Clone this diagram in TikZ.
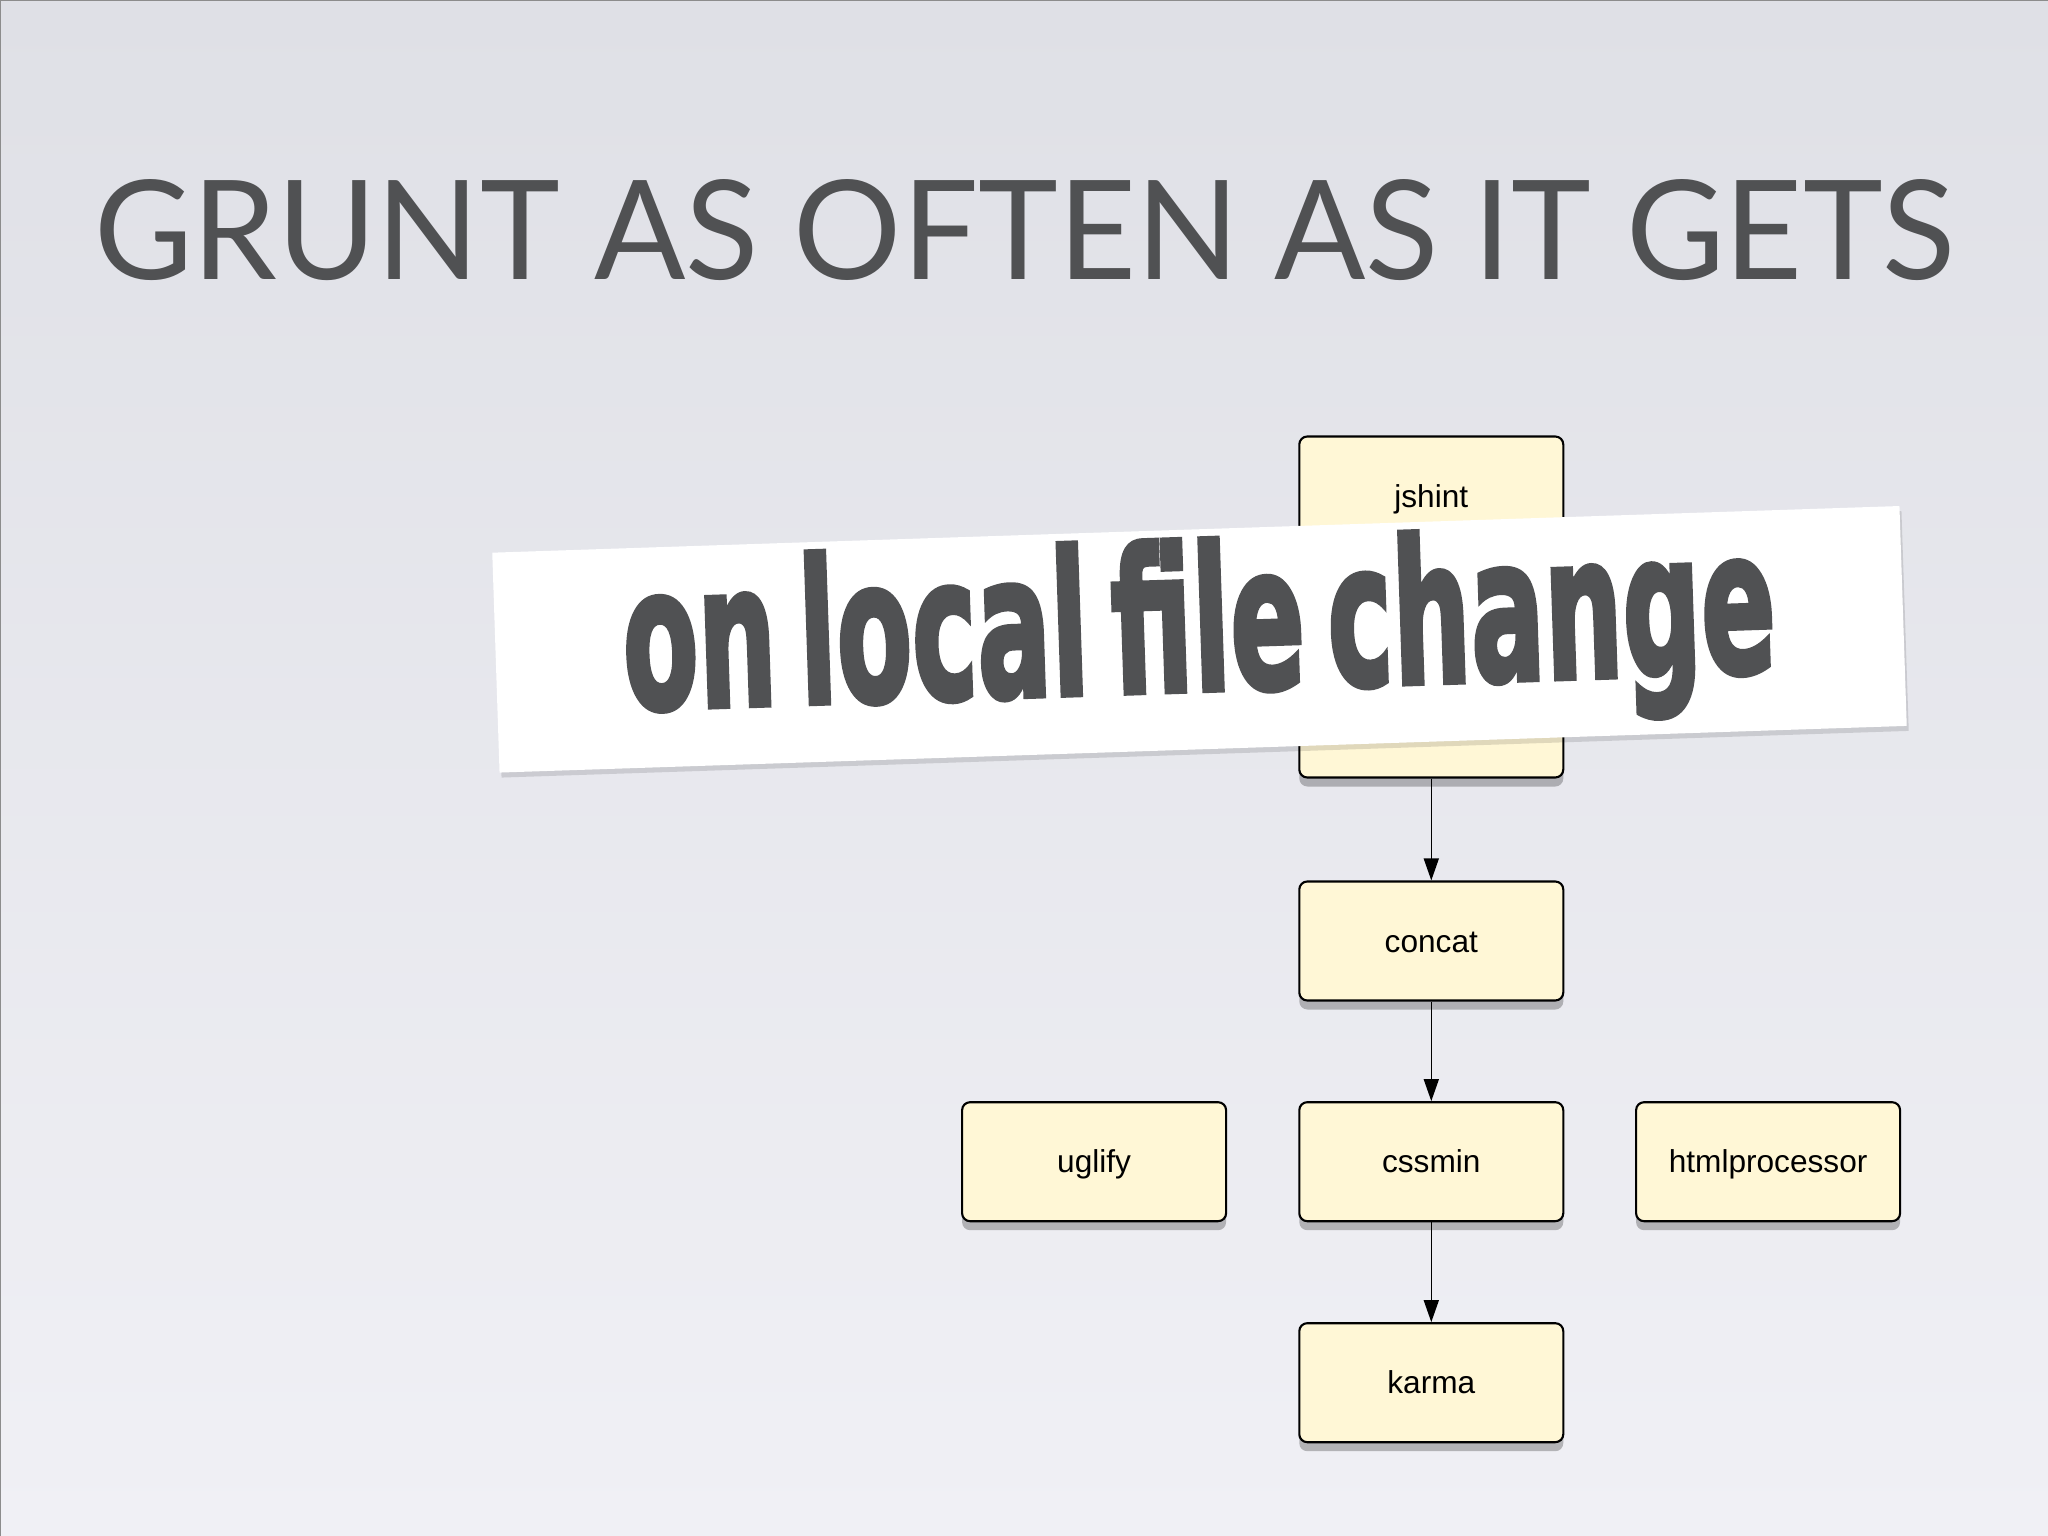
\documentclass[tikz,border=0pt]{standalone}
\usepackage{fontspec}
\setmainfont{Liberation Sans}
\newfontfamily\titlefont{Lato}
\newfontfamily\stampfont{DejaVu Sans}[FakeBold=3, WordSpace=0.6]
\usepackage{graphicx}
\usepackage{xcolor}
\definecolor{bgtop}{HTML}{DFE0E6}
\definecolor{bgbottom}{HTML}{F0F0F5}
\definecolor{inkgrey}{HTML}{505153}
\definecolor{taskfill}{HTML}{FFF7D6}
\usepackage{tikz}
\usetikzlibrary{arrows.meta,positioning,shadows}

\begin{document}
\begin{tikzpicture}[
    taskbox/.style={rectangle, rounded corners=0.8mm, draw=black, fill=taskfill, line width=0.6pt, minimum width=2.64cm, minimum height=1.19cm, text height=0.26cm, text depth=0.04cm, font=\fontsize{9}{11}\selectfont, drop shadow={shadow xshift=0pt, shadow yshift=-0.9mm, fill=black, opacity=0.25}},
    flow/.style={-{Triangle[length=2.2mm, width=1.5mm]}, line width=0.45pt},
    stamp/.style={rectangle, fill=white, minimum width=14.08cm, minimum height=2.2cm, text=inkgrey, text height=1.51cm, text depth=0.49cm, inner sep=0pt, drop shadow={shadow xshift=0.2mm, shadow yshift=-0.5mm, fill=black, opacity=0.12}},
  ]
    \shade[top color=bgtop, bottom color=bgbottom] (0,0) rectangle (20.48,-15.36);
    \useasboundingbox (0,0) rectangle (20.48,-15.36);
    \draw[black!45, line width=0.6pt] (0,-15.36) -- (0,0) -- (20.48,0);

    \node[text=inkgrey, anchor=base, inner sep=0pt] (title) at (10.245,-2.795) {\titlefont\resizebox{18.6cm}{1.0cm}{GRUNT AS OFTEN AS IT GETS}};

    \node[taskbox, minimum height=3.41cm, text height=0.25cm, text depth=2.23cm] (jshint) at (14.313,-6.07) {jshint};
    \node[taskbox] (concat) at (14.313,-9.41) {concat};
    \node[taskbox] (uglify) at (10.941,-11.617) {uglify};
    \node[taskbox] (cssmin) at (14.313,-11.617) {cssmin};
    \node[taskbox] (htmlproc) at (17.681,-11.617) {htmlprocessor};
    \node[taskbox] (karma) at (14.313,-13.827) {karma};

    \draw[flow] (jshint) -- (concat);
    \draw[flow] (concat) -- (cssmin);
    \draw[flow] (cssmin) -- (karma);

    % the sticker laid over the jshint box
    \node[stamp, rotate=1.9] (sticker) at (11.995,-6.393) {\stampfont\bfseries\resizebox{11.53cm}{1.51cm}{on local file change}};
  \end{tikzpicture}
\end{document}
